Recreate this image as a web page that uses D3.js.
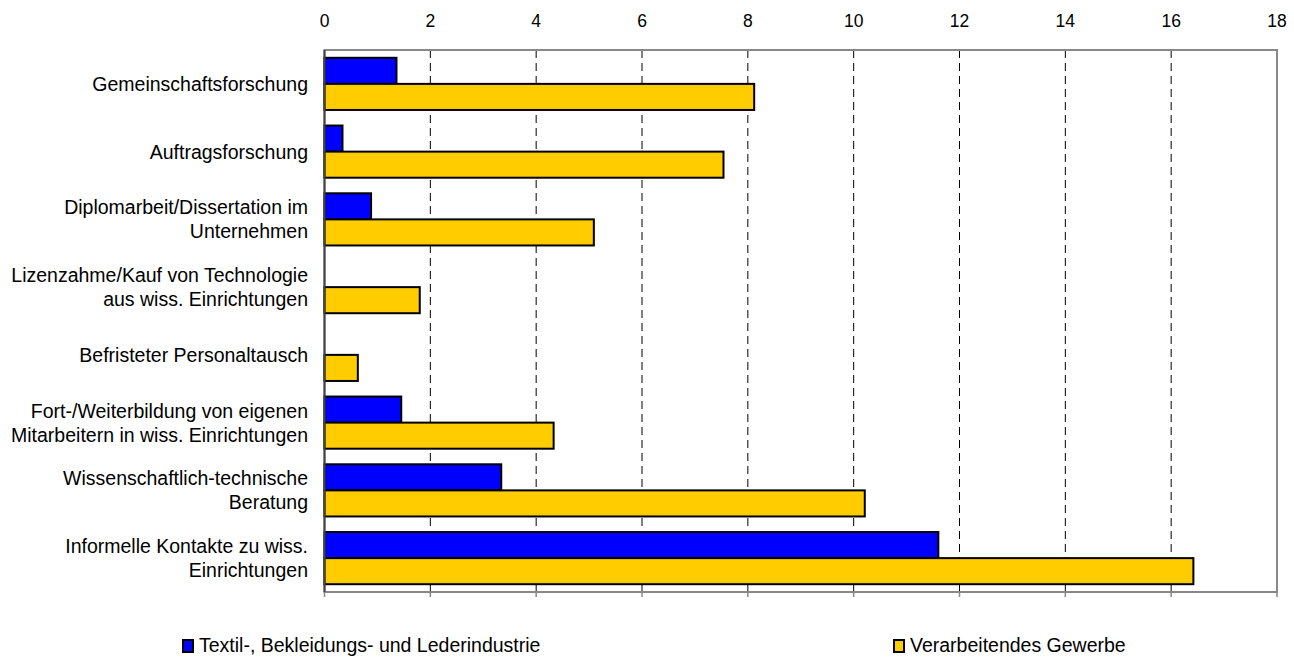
<!DOCTYPE html>
<html>
<head>
<meta charset="utf-8">
<script src="https://cdn.jsdelivr.net/npm/d3@7"></script>
<style>
  body { margin: 0; background: #fff; }
  svg { font-family: "Liberation Sans", Arial, sans-serif; }
</style>
</head>
<body>
<svg id="chart"></svg>
<script>
// Categories (each entry is a list of label lines)
const categories = [
  ["Gemeinschaftsforschung"],
  ["Auftragsforschung"],
  ["Diplomarbeit/Dissertation im", "Unternehmen"],
  ["Lizenzahme/Kauf von Technologie", "aus wiss. Einrichtungen"],
  ["Befristeter Personaltausch"],
  ["Fort-/Weiterbildung von eigenen", "Mitarbeitern in wiss. Einrichtungen"],
  ["Wissenschaftlich-technische", "Beratung"],
  ["Informelle Kontakte zu wiss.", "Einrichtungen"]
];

const seriesNames = ["Textil-, Bekleidungs- und Lederindustrie", "Verarbeitendes Gewerbe"];
const textilValues = [1.36, 0.34, 0.88, 0, 0, 1.45, 3.34, 11.6];
const gewerbeValues = [8.12, 7.54, 5.09, 1.8, 0.63, 4.33, 10.21, 16.42];
const xTicks = [0, 2, 4, 6, 8, 10, 12, 14, 16, 18];

const colours = ["#0000ff", "#ffcc00"];

const width = 1294;
const height = 657;
const margin = { top: 50, right: 17, bottom: 65, left: 324.5 };

const svg = d3.select("#chart")
  .attr("width", width)
  .attr("height", height);

const xScale = d3.scaleLinear()
  .domain([0, 18])
  .range([margin.left, width - margin.right]);

const yScale = d3.scaleBand()
  .domain(d3.range(categories.length))
  .range([margin.top, height - margin.bottom])
  .paddingInner(0.23)
  .paddingOuter(0.115);

const ySub = d3.scaleBand()
  .domain([0, 1])
  .range([0, yScale.bandwidth()]);

// dashed gridlines
svg.append("g")
  .selectAll("line")
  .data(xTicks.slice(1, -1))
  .join("line")
  .attr("x1", d => xScale(d))
  .attr("x2", d => xScale(d))
  .attr("y1", margin.top)
  .attr("y2", height - margin.bottom)
  .attr("stroke", "#000")
  .attr("stroke-dasharray", "8,5");

// plot frame
svg.append("rect")
  .attr("x", margin.left)
  .attr("y", margin.top)
  .attr("width", xScale(18) - margin.left)
  .attr("height", height - margin.bottom - margin.top)
  .attr("fill", "none")
  .attr("stroke", "#888")
  .attr("stroke-width", 2);

// x axis on top (labels only)
svg.append("g")
  .selectAll("text")
  .data(xTicks)
  .join("text")
  .attr("x", d => xScale(d))
  .attr("y", 27)
  .attr("text-anchor", "middle")
  .attr("font-size", 17.5)
  .text(d => d);

// small ticks on bottom axis
svg.append("g")
  .selectAll("line")
  .data(xTicks)
  .join("line")
  .attr("x1", d => xScale(d))
  .attr("x2", d => xScale(d))
  .attr("y1", height - margin.bottom)
  .attr("y2", height - margin.bottom + 5)
  .attr("stroke", "#888")
  .attr("stroke-width", 1.5);

// bars
const groups = svg.append("g")
  .selectAll("g")
  .data(categories.map((c, i) => ({ i, vals: [textilValues[i], gewerbeValues[i]] })))
  .join("g")
  .attr("transform", d => `translate(0,${yScale(d.i)})`);

groups.selectAll("rect")
  .data(d => d.vals.map((v, s) => ({ v, s })).filter(d => d.v > 0))
  .join("rect")
  .attr("x", xScale(0))
  .attr("y", d => ySub(d.s))
  .attr("width", d => xScale(d.v) - xScale(0))
  .attr("height", ySub.bandwidth())
  .attr("fill", d => colours[d.s])
  .attr("stroke", "#000")
  .attr("stroke-width", 2);

// left axis line
svg.append("line")
  .attr("x1", xScale(0))
  .attr("x2", xScale(0))
  .attr("y1", margin.top)
  .attr("y2", height - margin.bottom)
  .attr("stroke", "#444")
  .attr("stroke-width", 2);

// category labels
const labels = svg.append("g")
  .selectAll("text")
  .data(categories)
  .join("text")
  .attr("text-anchor", "end")
  .attr("font-size", 19.5)
  .attr("fill", "#000");

labels.each(function (lines, i) {
  const cy = yScale(i) + yScale.bandwidth() / 2;
  const lh = 24;
  const y0 = cy - (lines.length - 1) * lh / 2 + 7;
  d3.select(this).selectAll("tspan")
    .data(lines)
    .join("tspan")
    .attr("x", 308)
    .attr("y", (d, k) => y0 + k * lh)
    .text(d => d);
});

// legend
const legendX = [183, 894];
const legend = svg.append("g")
  .selectAll("g")
  .data(seriesNames)
  .join("g")
  .attr("transform", (d, i) => `translate(${legendX[i]},640)`);

legend.append("rect")
  .attr("width", 10)
  .attr("height", 12)
  .attr("fill", (d, i) => colours[i])
  .attr("stroke", "#000")
  .attr("stroke-width", 2);

legend.append("text")
  .attr("x", 16)
  .attr("y", 12)
  .attr("font-size", 19.5)
  .text(d => d);
</script>
</body>
</html>
